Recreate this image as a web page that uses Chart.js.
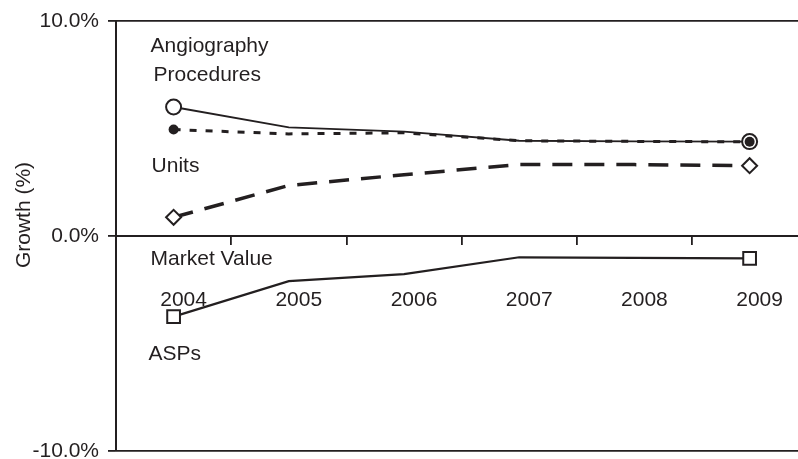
<!DOCTYPE html>
<html>
<head>
<meta charset="utf-8">
<script src="https://cdn.jsdelivr.net/npm/chart.js@4"></script>
<style>
  html, body { margin: 0; padding: 0; background: #fff; overflow: hidden; }
  canvas { display: block; }
</style>
</head>
<body>
<canvas id="chart" width="798" height="459"></canvas>
<script>
// data (growth, %)
const years = ['2004', '2005', '2006', '2007', '2008', '2009'];
const procedures = [6.0, 5.05, 4.85, 4.43, 4.4, 4.39];
const units = [4.95, 4.75, 4.8, 4.43, 4.4, 4.38];
const marketValue = [0.87, 2.35, 2.85, 3.32, 3.32, 3.27];
const asps = [-3.75, -2.1, -1.77, -0.99, -1.02, -1.04];
const yMin = -10, yMax = 10, yStep = 10;
// the plot runs a little past the right edge of the picture
const xMin = -0.5, xMax = 5.42;

// series captions inside the plot (year index, value at baseline)
const captions = [
  { text: 'Angiography', at: 0, value: 8.54, dx: -23 },
  { text: 'Procedures', at: 0, value: 7.19, dx: -20 },
  { text: 'Units', at: 0, value: 2.96, dx: -22 },
  { text: 'Market Value', at: 0, value: -1.35, dx: -23 },
  { text: 'ASPs', at: 0, value: -5.78, dx: -25 }
];

const ink = '#231f20';
const font = '"Liberation Sans", Arial, sans-serif';
Chart.defaults.font.family = font;
Chart.defaults.font.size = 21;
Chart.defaults.color = ink;

const points = (vals) => vals.map((v, i) => ({ x: i, y: v }));
// only first and last point carry a marker
const ends = (r) => years.map((y, i) => (i === 0 || i === years.length - 1) ? r : 0);

const textPlugin = {
  id: 'texts',
  afterDraw(chart) {
    const ctx = chart.ctx;
    const x = chart.scales.x, y = chart.scales.y;
    ctx.save();
    ctx.fillStyle = ink;
    ctx.font = '21px ' + font;
    ctx.textAlign = 'left';
    ctx.textBaseline = 'alphabetic';
    captions.forEach(c => {
      ctx.fillText(c.text, x.getPixelForValue(c.at) + c.dx, y.getPixelForValue(c.value));
    });
    // y axis title
    ctx.translate(24, 215);
    ctx.rotate(-Math.PI / 2);
    ctx.textAlign = 'center';
    ctx.textBaseline = 'middle';
    ctx.fillText('Growth (%)', 0, 0);
    ctx.restore();
  }
};

new Chart(document.getElementById('chart'), {
  type: 'line',
  data: {
    datasets: [
      {
        label: 'Angiography Procedures',
        data: points(procedures),
        borderColor: ink,
        borderWidth: 1.8,
        pointStyle: 'circle',
        pointRadius: ends(7.5),
        pointBorderWidth: 2,
        pointBackgroundColor: '#fff',
        pointBorderColor: ink,
        order: 3
      },
      {
        label: 'Units',
        data: points(units),
        borderColor: ink,
        borderWidth: 3,
        borderDash: [7, 9],
        pointStyle: 'circle',
        pointRadius: ends(5),
        pointBorderWidth: 0,
        pointBackgroundColor: ink,
        order: 1
      },
      {
        label: 'Market Value',
        data: points(marketValue),
        borderColor: ink,
        borderWidth: 3.5,
        borderDash: [20, 12],
        pointStyle: 'rectRot',
        pointRadius: ends(7.5),
        pointBorderWidth: 2,
        pointBackgroundColor: '#fff',
        pointBorderColor: ink,
        order: 2
      },
      {
        label: 'ASPs',
        data: points(asps),
        borderColor: ink,
        borderWidth: 2.2,
        pointStyle: 'rect',
        pointRadius: ends(9),
        pointBorderWidth: 2,
        pointBackgroundColor: '#fff',
        pointBorderColor: ink,
        order: 4
      }
    ]
  },
  options: {
    responsive: false,
    animation: false,
    events: [],
    layout: { autoPadding: false, padding: { left: 0, top: 21, right: 0, bottom: 8 } },
    plugins: { legend: { display: false }, tooltip: { enabled: false } },
    elements: { line: { tension: 0 } },
    scales: {
      x: {
        type: 'linear',
        min: xMin,
        max: xMax,
        position: { y: 0 },
        // tick marks sit between the years, labels sit on the years
        afterBuildTicks: (s) => { s.ticks = years.map((y, i) => ({ value: i - 0.5 })); },
        afterFit: (s) => { s.paddingLeft = 0; s.paddingRight = 0; },
        grid: { drawOnChartArea: false, tickLength: 8, color: ink, lineWidth: 1.8 },
        border: { display: true, color: ink, width: 2 },
        ticks: {
          padding: 44,
          labelOffset: 67.6,
          maxRotation: 0,
          autoSkip: false,
          color: ink,
          font: { size: 21 },
          callback: (v, i) => years[i]
        }
      },
      y: {
        min: yMin,
        max: yMax,
        afterFit: (s) => { s.width = 116; s.paddingTop = 0; s.paddingBottom = 0; },
        grid: { color: ink, lineWidth: 1.8, tickLength: 8 },
        border: { display: true, color: ink, width: 2 },
        ticks: {
          stepSize: yStep,
          padding: 9,
          color: ink,
          font: { size: 21 },
          callback: (v) => v.toFixed(1) + '%'
        }
      }
    }
  },
  plugins: [textPlugin]
});
</script>
</body>
</html>
